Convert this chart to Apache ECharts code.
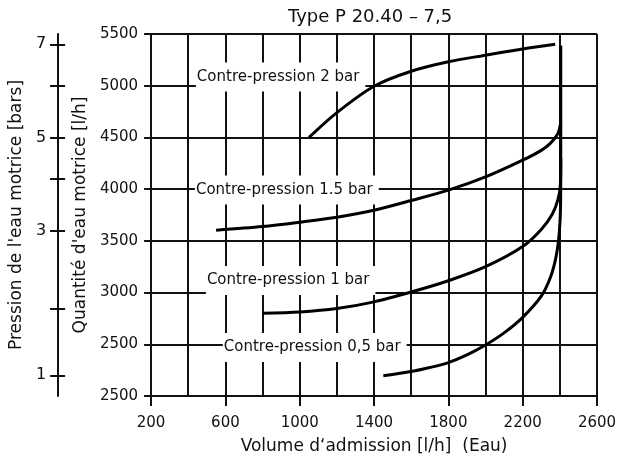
<!DOCTYPE html>
<html><head><meta charset="utf-8">
<script src="https://cdn.jsdelivr.net/npm/echarts@6/dist/echarts.min.js"></script>
<style>html,body{margin:0;padding:0;background:#fff}#c{width:622px;height:463px}</style>
</head><body><div id="c"></div>
<script>
const titleText = 'Type P 20.40 – 7,5';
const xName = 'Volume d‘admission [l/h]  (Eau)';
const yName = "Quantité d'eau motrice [l/h]";
const pName = "Pression de l'eau motrice [bars]";

const xLabelValues = [200, 600, 1000, 1400, 1800, 2200, 2600];
const yTickValues = [2000, 2500, 3000, 3500, 4000, 4500, 5000, 5500];
const yTickLabels = ['2500', '2500', '3000', '3500', '4000', '4500', '5000', '5500'];

const pressureValues = [1, 2, 3, 4, 5, 6, 7];
const pressureTickPos = [2200, 2840, 3600, 4100, 4500, 5000, 5400];
const pressureLabelled = [1, 3, 5, 7];

const curveNames = ['Contre-pression 2 bar', 'Contre-pression 1.5 bar', 'Contre-pression 1 bar', 'Contre-pression 0,5 bar'];
const curve2 = [[1050,4500],[1200,4740],[1400,4995],[1600,5140],[1800,5232],[2000,5295],[2200,5355],[2375,5400]];
const curve15 = [[550,3603],[800,3638],[1000,3680],[1200,3728],[1400,3796],[1600,3890],[1800,3990],[2000,4118],[2200,4280],[2300,4375],[2350,4445],[2390,4540],[2405,4650]];
const curve1 = [[800,2800],[1000,2812],[1200,2845],[1400,2910],[1600,3005],[1800,3114],[2000,3250],[2200,3445],[2300,3610],[2360,3760],[2390,3900],[2403,4050],[2405,4300]];
const curve05 = [[1450,2195],[1600,2236],[1700,2275],[1800,2323],[1900,2397],[2000,2493],[2100,2610],[2200,2760],[2300,2965],[2350,3150],[2380,3350],[2397,3580],[2404,3850],[2405,4300],[2405,5390]];
const labelAnchors = [[441,5084],[436,3992],[495,3117],[586,2469]];

const FONT = 'DejaVu Sans';
const INK = '#111';
const txt = {fontFamily: FONT, fontSize: 15, color: INK};
const nameTxt = {fontFamily: FONT, fontSize: 17, color: INK};
const line2 = {color: INK, width: 2};

const chart = echarts.init(document.getElementById('c'), null, {renderer: 'canvas'});
const curves = [curve2, curve15, curve1, curve05];

chart.setOption({
  animation: false,
  title: {text: titleText, left: 288, top: 8, padding: 0,
    textStyle: {fontFamily: FONT, fontSize: 18, fontWeight: 'normal', color: INK}},
  grid: {left: 150, right: 25, top: 34, bottom: 67},
  xAxis: [
    {type: 'value', min: 200, max: 2600, interval: 200, position: 'bottom',
      axisLine: {show: true, onZero: false, lineStyle: line2},
      axisTick: {show: false}, axisLabel: {show: false},
      splitLine: {show: true, lineStyle: line2}},
    {type: 'value', min: 200, max: 2600, interval: 200, position: 'bottom',
      axisLine: {show: false, onZero: false},
      axisTick: {show: true, customValues: xLabelValues, length: 10, lineStyle: line2},
      axisLabel: {show: true, customValues: xLabelValues, margin: 20, ...txt, formatter: v => String(v)},
      splitLine: {show: false},
      name: xName, nameLocation: 'middle', nameGap: 42, nameTextStyle: nameTxt}
  ],
  yAxis: [
    {type: 'value', min: 2000, max: 5500, interval: 500, position: 'left',
      axisLine: {show: true, onZero: false, lineStyle: line2},
      axisTick: {show: true, length: 7, lineStyle: line2},
      axisLabel: {margin: 13, ...txt, formatter: v => yTickLabels[yTickValues.indexOf(v)]},
      splitLine: {show: true, lineStyle: line2},
      name: yName, nameLocation: 'middle', nameGap: 58, nameTextStyle: nameTxt},
    {type: 'value', min: 2000, max: 5500, position: 'left', offset: 93,
      axisLine: {show: true, onZero: false, lineStyle: line2},
      axisTick: {show: true, customValues: pressureTickPos, length: 8, lineStyle: line2},
      axisLabel: {show: true, margin: 12, fontFamily: FONT, fontSize: 16, color: INK,
        customValues: pressureLabelled.map(p => pressureTickPos[pressureValues.indexOf(p)]),
        formatter: v => String(pressureValues[pressureTickPos.indexOf(v)])},
      splitLine: {show: false},
      name: pName, nameLocation: 'middle', nameGap: 32, nameTextStyle: nameTxt},
    {type: 'value', min: 2000, max: 5500, position: 'left', offset: 93,
      axisLine: {show: false, onZero: false},
      axisTick: {show: true, inside: true, customValues: pressureTickPos, length: 7, lineStyle: line2},
      axisLabel: {show: false}, splitLine: {show: false}}
  ],
  series: curves.map((d, i) => ({
    type: 'line', name: curveNames[i], data: d, xAxisIndex: 0, yAxisIndex: 0,
    smooth: 0.3, symbol: 'none', silent: true, z: 4,
    lineStyle: {color: '#000', width: 3}
  })).concat([{
    type: 'scatter', xAxisIndex: 0, yAxisIndex: 0, symbolSize: 0, silent: true, z: 3,
    itemStyle: {opacity: 1, color: '#fff'},
    emphasis: {disabled: true},
    data: curveNames.map((n, i) => ({name: n, value: labelAnchors[i]})),
    label: {show: true, position: 'right', distance: 0, formatter: '{b}', opacity: 1,
      backgroundColor: '#fff', padding: [7, 6, 7, 1], ...txt}
  }])
});
</script></body></html>
